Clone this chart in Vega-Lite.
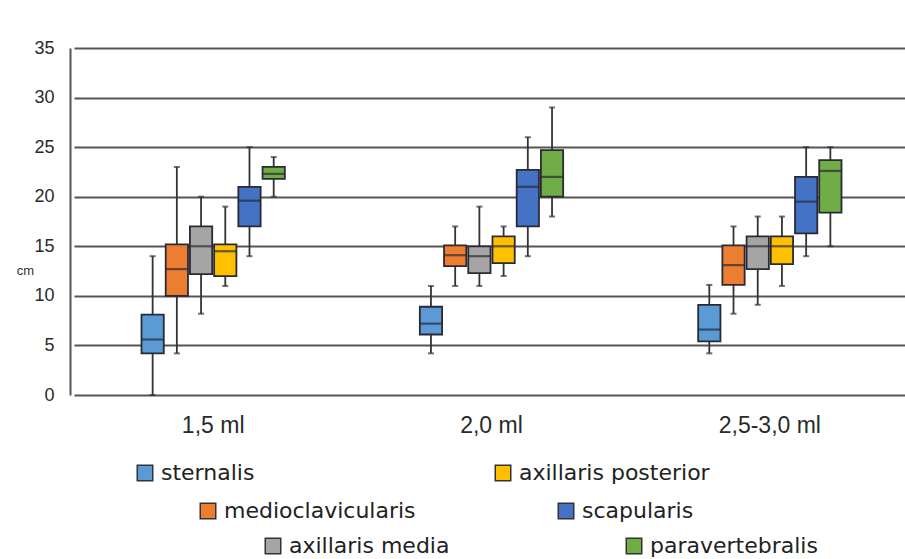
{
  "$schema": "https://vega.github.io/schema/vega-lite/v6.json",
  "width": 835,
  "height": 347,
  "autosize": {"type": "none"},
  "padding": {"left": 70, "top": 48, "right": 0, "bottom": 164},
  "background": "white",
  "config": {
    "font": "Liberation Sans, Arial, sans-serif",
    "view": {"stroke": null}
  },
  "data": {
    "values": [
      {"group": "1,5 ml", "series": "sternalis", "min": 0, "q1": 4.2, "median": 5.6, "q3": 8.1, "max": 14},
      {"group": "1,5 ml", "series": "medioclavicularis", "min": 4.2, "q1": 10, "median": 12.7, "q3": 15.2, "max": 23},
      {"group": "1,5 ml", "series": "axillaris media", "min": 8.2, "q1": 12.2, "median": 15, "q3": 17, "max": 20},
      {"group": "1,5 ml", "series": "axillaris posterior", "min": 11, "q1": 12, "median": 14.5, "q3": 15.2, "max": 19},
      {"group": "1,5 ml", "series": "scapularis", "min": 14, "q1": 17, "median": 19.6, "q3": 21, "max": 25},
      {"group": "1,5 ml", "series": "paravertebralis", "min": 20, "q1": 21.8, "median": 22.3, "q3": 23, "max": 24},
      {"group": "2,0 ml", "series": "sternalis", "min": 4.2, "q1": 6.1, "median": 7.2, "q3": 8.9, "max": 11},
      {"group": "2,0 ml", "series": "medioclavicularis", "min": 11, "q1": 13, "median": 14.1, "q3": 15.1, "max": 17},
      {"group": "2,0 ml", "series": "axillaris media", "min": 11, "q1": 12.3, "median": 14, "q3": 15, "max": 19},
      {"group": "2,0 ml", "series": "axillaris posterior", "min": 12, "q1": 13.3, "median": 15, "q3": 16, "max": 17},
      {"group": "2,0 ml", "series": "scapularis", "min": 14, "q1": 17, "median": 21, "q3": 22.7, "max": 26},
      {"group": "2,0 ml", "series": "paravertebralis", "min": 18, "q1": 20, "median": 22, "q3": 24.7, "max": 29},
      {"group": "2,5-3,0 ml", "series": "sternalis", "min": 4.2, "q1": 5.4, "median": 6.6, "q3": 9.1, "max": 11.1},
      {"group": "2,5-3,0 ml", "series": "medioclavicularis", "min": 8.2, "q1": 11.1, "median": 13.1, "q3": 15.1, "max": 17},
      {"group": "2,5-3,0 ml", "series": "axillaris media", "min": 9.1, "q1": 12.7, "median": 15, "q3": 16, "max": 18},
      {"group": "2,5-3,0 ml", "series": "axillaris posterior", "min": 11, "q1": 13.2, "median": 15, "q3": 16, "max": 18},
      {"group": "2,5-3,0 ml", "series": "scapularis", "min": 14, "q1": 16.3, "median": 19.5, "q3": 22, "max": 25},
      {"group": "2,5-3,0 ml", "series": "paravertebralis", "min": 15, "q1": 18.4, "median": 22.6, "q3": 23.7, "max": 25}
    ]
  },
  "encoding": {
    "x": {
      "field": "group", "type": "nominal", "sort": null,
      "scale": {"range": [4, 839], "paddingInner": 0.485, "paddingOuter": 0.2425},
      "axis": {"title": null, "labelAngle": 0, "domain": false, "ticks": false, "grid": false, "labelFontSize": 23, "labelColor": "#2a2a2a", "labelPadding": 19}
    },
    "xOffset": {
      "field": "series", "type": "nominal",
      "scale": {"domain": ["sternalis", "medioclavicularis", "axillaris media", "axillaris posterior", "scapularis", "paravertebralis"], "paddingInner": 0.08, "paddingOuter": 0}
    }
  },
  "resolve": {"scale": {"color": "independent"}, "legend": {"color": "independent"}},
  "layer": [
    {
      "mark": {"type": "rule", "color": "#333333", "strokeWidth": 1.8},
      "encoding": {
        "y": {
          "field": "min", "type": "quantitative",
          "scale": {"domain": [0, 35], "nice": false},
          "axis": {
            "values": [0, 5, 10, 15, 20, 25, 30, 35],
            "title": "cm", "titleAngle": 0, "titleFontSize": 13, "titleFontWeight": "normal", "titleColor": "#333",
            "titleX": -45, "titleY": 222, "titleAlign": "center", "titleBaseline": "middle",
            "grid": true, "gridColor": "#555555", "gridWidth": 2,
            "domain": true, "domainColor": "#555555", "domainWidth": 2,
            "ticks": false, "labelFontSize": 18, "labelColor": "#2a2a2a", "labelPadding": 16
          }
        },
        "y2": {"field": "max"}
      }
    },
    {
      "mark": {"type": "tick", "color": "#333333", "size": 6, "thickness": 2},
      "encoding": {"y": {"field": "min", "type": "quantitative"}}
    },
    {
      "mark": {"type": "tick", "color": "#333333", "size": 6, "thickness": 2},
      "encoding": {"y": {"field": "max", "type": "quantitative"}}
    },
    {
      "transform": [{"filter": {"field": "series", "oneOf": ["sternalis", "axillaris posterior"]}}],
      "mark": {"type": "bar", "stroke": "#2a2a36", "strokeWidth": 1.8, "opacity": 1},
      "encoding": {
        "y": {"field": "q1", "type": "quantitative"},
        "y2": {"field": "q3"},
        "color": {
          "field": "series", "type": "nominal",
          "scale": {"domain": ["sternalis", "axillaris posterior"], "range": ["#5b9bd5", "#ffc000"]},
          "legend": {
            "title": null, "orient": "none", "legendX": 64, "legendY": 414, "direction": "horizontal",
            "columnPadding": 237, "labelLimit": 400,
            "symbolType": "square", "symbolSize": 240, "symbolStrokeColor": "#333", "symbolStrokeWidth": 1.5,
            "labelFont": "DejaVu Sans", "labelFontSize": 22, "labelColor": "#222", "labelOffset": 5
          }
        }
      }
    },
    {
      "transform": [{"filter": {"field": "series", "oneOf": ["medioclavicularis", "scapularis"]}}],
      "mark": {"type": "bar", "stroke": "#2a2a36", "strokeWidth": 1.8, "opacity": 1},
      "encoding": {
        "y": {"field": "q1", "type": "quantitative"},
        "y2": {"field": "q3"},
        "color": {
          "field": "series", "type": "nominal",
          "scale": {"domain": ["medioclavicularis", "scapularis"], "range": ["#ed7d31", "#4472c4"]},
          "legend": {
            "title": null, "orient": "none", "legendX": 127, "legendY": 452, "direction": "horizontal",
            "columnPadding": 139, "labelLimit": 400,
            "symbolType": "square", "symbolSize": 240, "symbolStrokeColor": "#333", "symbolStrokeWidth": 1.5,
            "labelFont": "DejaVu Sans", "labelFontSize": 22, "labelColor": "#222", "labelOffset": 5
          }
        }
      }
    },
    {
      "transform": [{"filter": {"field": "series", "oneOf": ["axillaris media", "paravertebralis"]}}],
      "mark": {"type": "bar", "stroke": "#2a2a36", "strokeWidth": 1.8, "opacity": 1},
      "encoding": {
        "y": {"field": "q1", "type": "quantitative"},
        "y2": {"field": "q3"},
        "color": {
          "field": "series", "type": "nominal",
          "scale": {"domain": ["axillaris media", "paravertebralis"], "range": ["#a5a5a5", "#70ad47"]},
          "legend": {
            "title": null, "orient": "none", "legendX": 192, "legendY": 487, "direction": "horizontal",
            "columnPadding": 173, "labelLimit": 400,
            "symbolType": "square", "symbolSize": 240, "symbolStrokeColor": "#333", "symbolStrokeWidth": 1.5,
            "labelFont": "DejaVu Sans", "labelFontSize": 22, "labelColor": "#222", "labelOffset": 5
          }
        }
      }
    },
    {
      "mark": {"type": "tick", "color": "#2a2a36", "size": 22, "thickness": 2.2},
      "encoding": {"y": {"field": "median", "type": "quantitative"}}
    }
  ]
}
